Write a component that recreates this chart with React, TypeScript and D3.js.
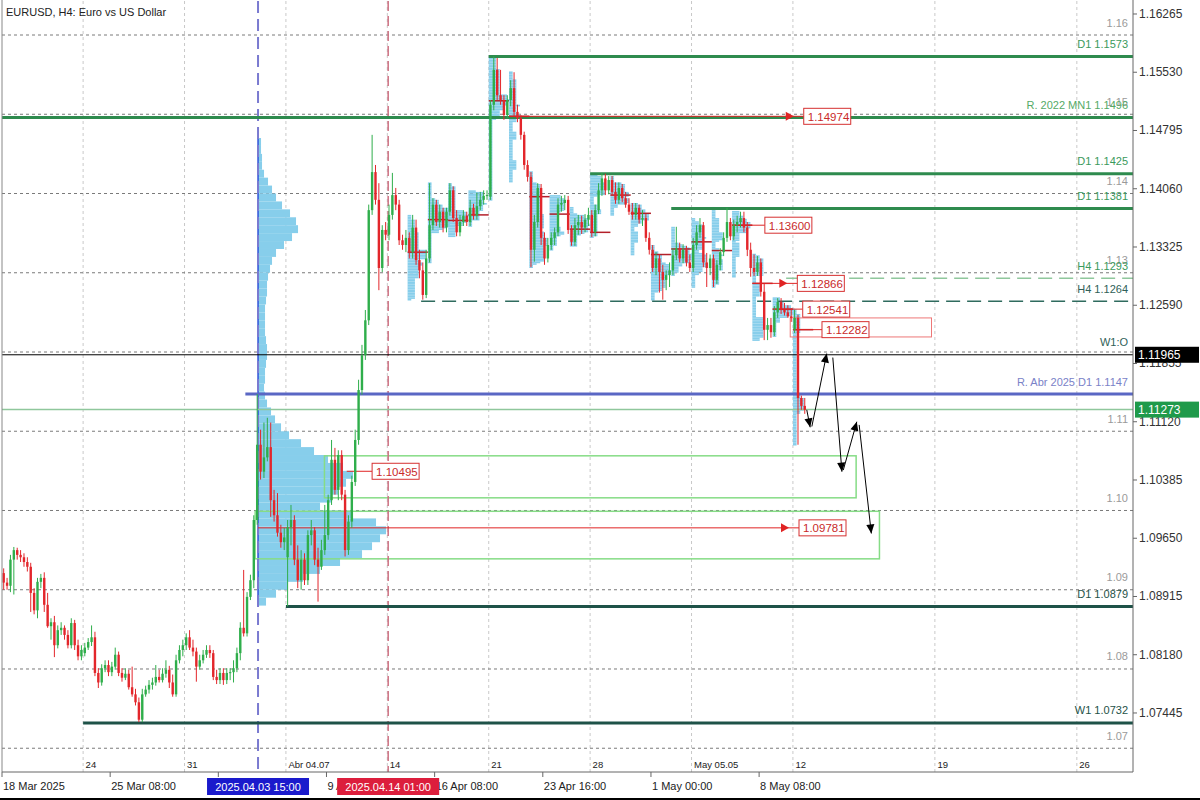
import React from "react";
import * as d3 from "d3";

// ---------- DATA ----------
// H4 OHLC bars [open, high, low, close], 18 Mar 2025 00:00 -> 12 May 2025 12:00
const candles: number[][] = [
  [1.0921,1.0927,1.0900,1.0909],[1.0909,1.0915,1.0900,1.0905],[1.0905,1.0944,1.0897,1.0938],[1.0938,1.0954,1.0894,1.0950],
  [1.0950,1.0953,1.0938,1.0944],[1.0944,1.0950,1.0935,1.0941],[1.0941,1.0946,1.0929,1.0935],[1.0935,1.0941,1.0923,1.0929],
  [1.0929,1.0934,1.0872,1.0896],[1.0896,1.0902,1.0869,1.0874],[1.0874,1.0915,1.0864,1.0910],[1.0910,1.0920,1.0902,1.0915],
  [1.0915,1.0922,1.0872,1.0881],[1.0881,1.0896,1.0852,1.0854],[1.0854,1.0864,1.0837,1.0859],[1.0859,1.0867,1.0815,1.0830],
  [1.0830,1.0855,1.0826,1.0849],[1.0849,1.0859,1.0843,1.0852],[1.0852,1.0855,1.0837,1.0843],[1.0843,1.0849,1.0826,1.0830],
  [1.0830,1.0864,1.0826,1.0858],[1.0858,1.0862,1.0824,1.0830],[1.0830,1.0837,1.0811,1.0816],[1.0816,1.0830,1.0811,1.0824],
  [1.0820,1.0833,1.0816,1.0827],[1.0827,1.0839,1.0824,1.0834],[1.0834,1.0855,1.0829,1.0840],[1.0840,1.0847,1.0791,1.0795],
  [1.0795,1.0801,1.0776,1.0783],[1.0783,1.0806,1.0779,1.0801],[1.0801,1.0811,1.0796,1.0805],[1.0805,1.0811,1.0791,1.0796],
  [1.0796,1.0809,1.0791,1.0803],[1.0803,1.0827,1.0799,1.0818],[1.0818,1.0822,1.0791,1.0795],[1.0795,1.0801,1.0784,1.0789],
  [1.0789,1.0801,1.0786,1.0794],[1.0794,1.0799,1.0774,1.0777],[1.0777,1.0803,1.0765,1.0768],[1.0768,1.0775,1.0754,1.0758],
  [1.0758,1.0764,1.0733,1.0736],[1.0736,1.0775,1.0733,1.0768],[1.0768,1.0779,1.0765,1.0774],[1.0774,1.0786,1.0769,1.0780],
  [1.0780,1.0789,1.0774,1.0783],[1.0783,1.0805,1.0779,1.0790],[1.0790,1.0799,1.0783,1.0786],[1.0786,1.0801,1.0783,1.0794],
  [1.0794,1.0811,1.0789,1.0799],[1.0799,1.0804,1.0776,1.0783],[1.0783,1.0793,1.0765,1.0768],[1.0768,1.0818,1.0765,1.0811],
  [1.0811,1.0830,1.0807,1.0824],[1.0824,1.0837,1.0816,1.0830],
  [1.0830,1.0845,1.0824,1.0840],[1.0840,1.0849,1.0824,1.0827],[1.0827,1.0837,1.0816,1.0822],[1.0822,1.0827,1.0784,1.0803],
  [1.0803,1.0818,1.0799,1.0811],[1.0811,1.0824,1.0807,1.0818],[1.0818,1.0830,1.0814,1.0824],[1.0824,1.0830,1.0814,1.0820],
  [1.0820,1.0824,1.0786,1.0790],[1.0790,1.0799,1.0781,1.0786],[1.0786,1.0801,1.0781,1.0795],[1.0795,1.0801,1.0780,1.0786],
  [1.0786,1.0801,1.0781,1.0795],[1.0795,1.0801,1.0786,1.0796],[1.0796,1.0811,1.0783,1.0801],[1.0801,1.0827,1.0796,1.0820],
  [1.0820,1.0859,1.0811,1.0852],[1.0852,1.0925,1.0841,1.0845],[1.0845,1.0897,1.0841,1.0891],[1.0891,1.0919,1.0887,1.0912],
  [1.0912,1.0994,1.0902,1.0988],[1.0988,1.1147,1.0982,1.1083],[1.1083,1.1102,1.1039,1.1049],[1.1049,1.1111,1.1041,1.1067],
  [1.1067,1.1117,1.1062,1.1080],[1.1080,1.1111,1.0992,1.1013],[1.1013,1.1026,1.0986,1.0994],[1.0994,1.1022,1.0967,1.0972],
  [1.0972,1.0982,1.0953,1.0960],[1.0960,1.0978,1.0950,1.0966],
  [1.0941,1.0988,1.0879,1.0979],[1.0979,1.1007,1.0956,1.0988],[1.0988,1.0994,1.0931,1.0938],[1.0938,1.0956,1.0902,1.0912],
  [1.0912,1.0950,1.0900,1.0938],[1.0938,1.0946,1.0906,1.0912],[1.0912,1.0975,1.0906,1.0969],[1.0969,1.0988,1.0956,1.0975],
  [1.0975,1.0979,1.0931,1.0938],[1.0938,1.0953,1.0885,1.0929],[1.0929,1.0963,1.0925,1.0950],[1.0950,1.1007,1.0944,1.0969],
  [1.0969,1.1020,1.0963,1.1013],[1.1013,1.1089,1.1007,1.1064],[1.1064,1.1079,1.1020,1.1026],[1.1026,1.1076,1.1013,1.1070],
  [1.1070,1.1076,1.1013,1.1020],[1.1020,1.1026,1.0942,1.0950],[1.0950,1.0994,1.0944,1.0986],[1.0986,1.1044,1.0978,1.1036],
  [1.1036,1.1102,1.1031,1.1089],[1.1089,1.1165,1.1083,1.1152],[1.1152,1.1209,1.1146,1.1196],[1.1196,1.1253,1.1190,1.1240],
  [1.1240,1.1386,1.1234,1.1379],[1.1379,1.1474,1.1373,1.1427],[1.1427,1.1436,1.1386,1.1392],[1.1392,1.1413,1.1278,1.1306],
  [1.1306,1.1360,1.1301,1.1354],[1.1354,1.1364,1.1341,1.1348],
  [1.1348,1.1386,1.1341,1.1373],[1.1373,1.1426,1.1367,1.1398],[1.1398,1.1407,1.1379,1.1386],[1.1386,1.1392,1.1335,1.1341],
  [1.1341,1.1348,1.1329,1.1335],[1.1335,1.1354,1.1326,1.1344],[1.1344,1.1351,1.1318,1.1326],[1.1326,1.1373,1.1318,1.1357],
  [1.1357,1.1367,1.1310,1.1316],[1.1316,1.1329,1.1293,1.1303],[1.1303,1.1313,1.1266,1.1272],[1.1272,1.1329,1.1268,1.1318],
  [1.1318,1.1413,1.1313,1.1360],[1.1360,1.1394,1.1354,1.1386],[1.1386,1.1392,1.1359,1.1364],[1.1364,1.1386,1.1357,1.1377],
  [1.1377,1.1382,1.1351,1.1357],[1.1357,1.1382,1.1351,1.1377],[1.1377,1.1413,1.1372,1.1404],[1.1404,1.1409,1.1364,1.1369],
  [1.1369,1.1379,1.1346,1.1351],[1.1351,1.1373,1.1346,1.1364],[1.1364,1.1379,1.1359,1.1372],[1.1372,1.1377,1.1359,1.1364],
  [1.1364,1.1392,1.1359,1.1382],[1.1382,1.1387,1.1367,1.1372],[1.1372,1.1401,1.1367,1.1384],[1.1384,1.1402,1.1379,1.1392],
  [1.1392,1.1404,1.1386,1.1397],[1.1397,1.1404,1.1392,1.1398],
  [1.1396,1.1518,1.1392,1.1512],[1.1512,1.1573,1.1505,1.1556],[1.1556,1.1571,1.1518,1.1524],[1.1524,1.1556,1.1512,1.1518],
  [1.1518,1.1524,1.1493,1.1499],[1.1499,1.1524,1.1495,1.1518],[1.1518,1.1543,1.1510,1.1533],[1.1533,1.1553,1.1497,1.1503],
  [1.1503,1.1512,1.1490,1.1495],[1.1495,1.1499,1.1468,1.1474],[1.1474,1.1478,1.1430,1.1436],[1.1436,1.1442,1.1415,1.1421],
  [1.1421,1.1427,1.1307,1.1329],[1.1329,1.1373,1.1314,1.1364],[1.1364,1.1413,1.1357,1.1407],[1.1407,1.1412,1.1335,1.1344],
  [1.1344,1.1351,1.1310,1.1318],[1.1318,1.1344,1.1313,1.1335],[1.1335,1.1351,1.1329,1.1344],[1.1344,1.1357,1.1335,1.1351],
  [1.1351,1.1394,1.1346,1.1386],[1.1386,1.1397,1.1377,1.1388],[1.1388,1.1398,1.1379,1.1392],[1.1392,1.1397,1.1349,1.1354],
  [1.1354,1.1360,1.1334,1.1339],[1.1339,1.1369,1.1334,1.1360],[1.1360,1.1373,1.1348,1.1364],[1.1364,1.1372,1.1349,1.1357],
  [1.1357,1.1374,1.1351,1.1367],[1.1367,1.1382,1.1359,1.1373],
  [1.1373,1.1379,1.1345,1.1351],[1.1351,1.1386,1.1346,1.1379],[1.1379,1.1413,1.1374,1.1404],[1.1404,1.1426,1.1397,1.1419],
  [1.1419,1.1425,1.1398,1.1404],[1.1404,1.1422,1.1399,1.1417],[1.1417,1.1422,1.1397,1.1402],[1.1402,1.1414,1.1387,1.1392],
  [1.1392,1.1414,1.1387,1.1407],[1.1407,1.1412,1.1389,1.1394],[1.1394,1.1402,1.1382,1.1386],[1.1386,1.1394,1.1373,1.1377],
  [1.1377,1.1388,1.1367,1.1373],[1.1373,1.1388,1.1367,1.1382],[1.1382,1.1386,1.1362,1.1367],[1.1367,1.1379,1.1359,1.1369],
  [1.1369,1.1374,1.1339,1.1344],[1.1344,1.1351,1.1323,1.1329],[1.1329,1.1335,1.1301,1.1306],[1.1306,1.1326,1.1297,1.1318],
  [1.1318,1.1323,1.1275,1.1301],[1.1301,1.1310,1.1266,1.1291],[1.1291,1.1303,1.1278,1.1297],[1.1297,1.1313,1.1282,1.1303],
  [1.1303,1.1331,1.1297,1.1322],[1.1322,1.1358,1.1316,1.1331],[1.1331,1.1338,1.1313,1.1318],[1.1318,1.1336,1.1312,1.1329],
  [1.1329,1.1334,1.1308,1.1313],[1.1313,1.1323,1.1301,1.1306],
  [1.1306,1.1344,1.1301,1.1335],[1.1335,1.1360,1.1329,1.1351],[1.1351,1.1369,1.1344,1.1360],[1.1360,1.1364,1.1307,1.1313],
  [1.1313,1.1325,1.1282,1.1306],[1.1306,1.1323,1.1297,1.1318],[1.1318,1.1323,1.1282,1.1291],[1.1291,1.1316,1.1286,1.1310],
  [1.1310,1.1331,1.1303,1.1326],[1.1326,1.1351,1.1321,1.1344],[1.1344,1.1382,1.1339,1.1364],[1.1364,1.1369,1.1341,1.1346],
  [1.1346,1.1367,1.1341,1.1360],[1.1360,1.1372,1.1351,1.1364],[1.1364,1.1377,1.1357,1.1369],[1.1369,1.1377,1.1351,1.1357],
  [1.1357,1.1364,1.1321,1.1329],[1.1329,1.1338,1.1295,1.1306],[1.1306,1.1323,1.1296,1.1301],[1.1301,1.1321,1.1296,1.1313],
  [1.1313,1.1318,1.1270,1.1276],[1.1276,1.1286,1.1215,1.1228],[1.1228,1.1243,1.1215,1.1234],[1.1234,1.1243,1.1218,1.1225],
  [1.1225,1.1258,1.1220,1.1250],[1.1250,1.1268,1.1243,1.1263],[1.1263,1.1268,1.1248,1.1253],[1.1253,1.1262,1.1246,1.1250],
  [1.1250,1.1259,1.1243,1.1245],[1.1245,1.1255,1.1238,1.1243],
  [1.1228,1.1253,1.1224,1.1243],[1.1243,1.1247,1.1083,1.1142],[1.1142,1.1145,1.1127,1.1132],[1.1132,1.1142,1.1122,1.1127],
];

const TITLE = "EURUSD, H4:  Euro vs US Dollar";
const priceTicks = [1.16265, 1.1553, 1.14795, 1.1406, 1.13325, 1.1259, 1.11855, 1.1112, 1.10385, 1.0965, 1.08915, 1.0818, 1.07445];
const gridLevels = [1.16, 1.15, 1.14, 1.13, 1.12, 1.11, 1.1, 1.09, 1.08, 1.07];
// the 1.12 label is hidden behind the W1:O caption in the reference
const gridLabels = ["1.16", "1.15", "1.14", "1.13", "", "1.11", "1.10", "1.09", "1.08", "1.07"];
const weekIdx = [24, 54, 84, 114, 144, 174, 204, 234, 276, 318];
const weekLabels = ["24", "31", "Abr 04.07", "14", "21", "28", "May 05.05", "12", "19", "26"];
// the 1 Apr 16:00 label is covered by the blue time marker in the reference
const timeIdx = [0, 32, 64, 96, 128, 160, 192, 224];
const timeLabels = ["18 Mar 2025", "25 Mar 08:00", "", "9 Apr 00:00", "16 Apr 08:00", "23 Apr 16:00", "1 May 00:00", "8 May 08:00"];

const levelNames = ["D1 1.1573", "R. 2022 MN1 1.1496", "D1 1.1425", "D1 1.1381", "H4 1.1293", "H4 1.1264", "W1:O", "R. Abr 2025 D1 1.1147", "D1 1.0879", "W1 1.0732"];
const levelPrices = [1.1573, 1.1496, 1.1425, 1.1381, 1.1293, 1.1264, 1.11965, 1.1147, 1.0879, 1.0732];
const levelStart = [144, -1, 174, 198, 232, 124, -1, 72, 84, 24];
const levelKind = ["d1", "mn", "d1", "d1", "h4l", "h4d", "wo", "abr", "dt", "dt"];

const currentPrice = 1.11273;
const weekOpen = 1.11965;

const compositeAnchor = 75.75; // 2025.04.03 15:00
const compositeEnd = 114.25;   // 2025.04.14 01:00
const compositePrices = [1.1465,1.1455,1.1445,1.1435,1.1425,1.1415,1.1405,1.1395,1.1385,1.1375,1.1365,1.1355,1.1345,1.1335,1.1325,1.1315,1.1305,1.1295,1.1285,1.1275,1.1265,1.1255,1.1245,1.1235,1.1225,1.1215,1.1205,1.1195,1.1185,1.1175,1.1165,1.1155,1.1145,1.1135,1.1125,1.1115,1.1105,1.1095,1.1085,1.1075,1.1065,1.1055,1.1045,1.1035,1.1025,1.1015,1.1005,1.0995,1.0985,1.0975,1.0965,1.0955,1.0945,1.0935,1.0925,1.0915,1.0905,1.0895,1.0885];
const compositeVolume = [3,3,4,4,6,10,14,18,24,32,38,40,34,26,18,14,12,10,9,9,8,7,7,7,7,8,9,9,8,7,7,6,7,9,13,17,23,31,43,56,70,85,95,88,80,74,62,95,118,128,122,114,104,82,62,45,30,18,8];

const dailyStart = [120, 126, 132, 138, 144, 150, 156, 162, 168, 174, 180, 186, 192, 198, 204, 210, 216, 222, 228, 234];
const dailyPoc = [1.1326, 1.1367, 1.1366, 1.1373, 1.1517, 1.14974, 1.1396, 1.1374, 1.1355, 1.1351, 1.1398, 1.1375, 1.1323, 1.133, 1.1339, 1.1328, 1.136, 1.12866, 1.12541, 1.12282];

const nakedPrice = [1.14974, 1.136, 1.12866, 1.12541, 1.10495, 1.09781, 1.12282];
const nakedFrom = [150, 216, 222, 228, 102, 75.75, 234];
const nakedLabelAt = [237.2, 225.7, 235.3, 236.9, 109.5, 235.8, 242.6];
const nakedArrow = [true, false, true, false, false, true, false];
const nakedText = ["1.14974", "1.13600", "1.12866", "1.12541", "1.10495", "1.09781", "1.12282"];

// 12 May POC zone rectangle [fromIdx, toIdx, top, bottom]
const pocZone = [233.2, 275, 1.1243, 1.1219];
// demand zones [fromIdx, toIdx, top, bottom]
const zones = [
  [95.4, 252.7, 1.1069, 1.1016],
  [74.9, 259.6, 1.0999, 1.0939],
];
// projected path arrows [fromIdx, fromPrice, toIdx, toPrice]
const projection = [
  [237.6, 1.1127, 238.6, 1.1105],
  [239.1, 1.1106, 243.5, 1.1198],
  [245.3, 1.1193, 248.0, 1.1049],
  [248.4, 1.1051, 252.4, 1.1112],
  [253.1, 1.1108, 256.7, 1.0971],
];

// ---------- STYLE ----------
const FONT = "'Liberation Sans', Arial, sans-serif";
const levelStyle: Record<string, any> = {
  d1: { stroke: "#2e8b4e", w: 3, dash: undefined, text: "#3a9a5c" },
  mn: { stroke: "#2e8b4e", w: 3, dash: undefined, text: "#55aa66" },
  h4l: { stroke: "#8fc79c", w: 1.5, dash: "14,7", text: "#3a9a5c" },
  h4d: { stroke: "#2f6b5e", w: 1.5, dash: "14,7", text: "#2f5f58" },
  wo: { stroke: "#000000", w: 1, dash: undefined, text: "#2f5f58" },
  abr: { stroke: "#5a67c4", w: 3, dash: undefined, text: "#7a82c8" },
  dt: { stroke: "#1e5248", w: 3, dash: undefined, text: "#1e5248" },
};

export default function App() {
  const L = 2, R = 1133, T = 1, B = 772;
  const x = d3.scaleLinear().domain([0, 334]).range([2, 2 + 3.38 * 334]);
  const y = d3.scaleLinear().domain([1.067003, 1.164038]).range([B, 3]);
  const bx = (i: number) => x(i + 0.5);
  const volX = d3.scaleLinear().domain([0, 128]).range([0, 128]);
  const tpoX = d3.scaleLinear().domain([0, 6]).range([0, 22]);

  const step = 0.0002;
  const profiles = dailyStart.map((s) => {
    const seg = candles.slice(s, s + 6);
    const lo = d3.min(seg, (d) => d[2]) as number;
    const hi = d3.max(seg, (d) => d[1]) as number;
    const bins = d3.range(lo, hi + step / 2, step).map((p) => ({
      p,
      n: seg.filter((d) => d[2] <= p + 1e-9 && d[1] >= p - 1e-9).length,
    }));
    return { s, bins };
  });

  const arrowRed = (xt: number, yt: number) => `M${xt},${yt} L${xt - 8},${yt - 4.5} L${xt - 8},${yt + 4.5} Z`;

  return (
    <svg width={1200} height={800} style={{ position: "fixed", left: 0, top: 0, background: "#fff" }} fontFamily={FONT}>
      <defs>
        <clipPath id="plot"><rect x={L} y={T} width={R - L} height={B - T} /></clipPath>
        <marker id="ah" viewBox="0 0 10 10" refX="10" refY="5" markerWidth="11" markerHeight="9" markerUnits="userSpaceOnUse" orient="auto">
          <path d="M0,0.5 L10,5 L0,9.5 Z" fill="#000" />
        </marker>
      </defs>
      <rect x={0} y={0} width={1200} height={800} fill="#fff" />

      <g clipPath="url(#plot)">
        {weekIdx.map((w, i) => (
          <line key={"vg" + i} x1={x(w)} x2={x(w)} y1={T} y2={B} stroke="#c9c9c9" strokeDasharray="3,3" />
        ))}
        {gridLevels.map((g, i) => (
          <line key={"hg" + i} x1={L} x2={R} y1={y(g)} y2={y(g)} stroke="#7a7a7a" strokeDasharray="3,3" />
        ))}

        {compositePrices.map((p, i) => (
          <rect key={"cp" + i} x={x(compositeAnchor)} y={y(p + 0.0005)} width={volX(compositeVolume[i])}
            height={y(p - 0.0005) - y(p + 0.0005)} fill="#87ceeb" />
        ))}
        <line x1={x(compositeAnchor)} x2={x(compositeAnchor)} y1={y(1.147)} y2={y(1.088)} stroke="#3050d8" strokeWidth={1.5} />

        {profiles.map((pr) =>
          pr.bins.map((b, j) => (
            <rect key={"dp" + pr.s + "_" + j} x={x(pr.s)} y={y(b.p + step / 2)} width={tpoX(b.n)}
              height={y(b.p - step / 2) - y(b.p + step / 2)} fill="#87ceeb" />
          ))
        )}

        {zones.map((z, i) => (
          <rect key={"z" + i} x={x(z[0])} y={y(z[2])} width={x(z[1]) - x(z[0])} height={y(z[3]) - y(z[2])}
            fill="none" stroke="#86dc86" strokeWidth={1.5} />
        ))}

        <line x1={x(compositeAnchor)} x2={x(compositeAnchor)} y1={T} y2={B} stroke="#7a7ad0" strokeWidth={2} strokeDasharray="12,6" />
        <line x1={x(compositeEnd)} x2={x(compositeEnd)} y1={T} y2={B} stroke="#cc6f80" strokeWidth={1.5} strokeDasharray="10,5" />

        {levelPrices.map((p, i) => {
          const st = levelStyle[levelKind[i]];
          const x0 = levelStart[i] < 0 ? L : x(levelStart[i]);
          return <line key={"lv" + i} x1={x0} x2={R} y1={y(p)} y2={y(p)} stroke={st.stroke} strokeWidth={st.w} strokeDasharray={st.dash} />;
        })}
        <line x1={L} x2={R} y1={y(currentPrice)} y2={y(currentPrice)} stroke="#8fc79c" strokeWidth={1.5} />

        {dailyStart.map((s, i) => (
          <line key={"poc" + i} x1={x(s)} x2={x(s + 6)} y1={y(dailyPoc[i])} y2={y(dailyPoc[i])} stroke="#b3202a" strokeWidth={1.5} />
        ))}

        <rect x={x(pocZone[0])} y={y(pocZone[2])} width={x(pocZone[1]) - x(pocZone[0])} height={y(pocZone[3]) - y(pocZone[2])}
          fill="none" stroke="#ee7777" strokeWidth={1} />

        {nakedPrice.map((p, i) => {
          const lx = x(nakedLabelAt[i]);
          const yy = y(p);
          return (
            <g key={"np" + i}>
              <line x1={x(nakedFrom[i])} x2={lx} y1={yy} y2={yy} stroke="#e02424" strokeWidth={1} />
              {nakedArrow[i] && <path d={arrowRed(lx - 10, yy)} fill="#e02424" />}
            </g>
          );
        })}

        {candles.map((c, i) => {
          const up = c[3] >= c[0];
          const col = up ? "#2fae4b" : "#e3262b";
          const top = y(Math.max(c[0], c[3]));
          const bot = y(Math.min(c[0], c[3]));
          const cx = bx(i);
          return (
            <g key={"c" + i}>
              <line x1={cx} x2={cx} y1={y(c[1])} y2={y(c[2])} stroke={col} strokeWidth={1} />
              <rect x={cx - 1.2} y={top} width={2.4} height={Math.max(1, bot - top)} fill={col} />
            </g>
          );
        })}

        {nakedPrice.map((p, i) => {
          const lx = x(nakedLabelAt[i]);
          const yy = y(p);
          return (
            <g key={"nl" + i}>
              <rect x={lx} y={yy - 8} width={47} height={16} fill="#fff" stroke="#d63030" strokeWidth={1} />
              <text x={lx + 4} y={yy + 4.5} fontSize={11.5} fill="#c92a2a">{nakedText[i]}</text>
            </g>
          );
        })}

        {projection.map((a, i) => (
          <line key={"pa" + i} x1={bx(a[0])} y1={y(a[1])} x2={bx(a[2])} y2={y(a[3])} stroke="#000" strokeWidth={1} markerEnd="url(#ah)" />
        ))}

        {gridLevels.map((g, i) => gridLabels[i] ? (
          <text key={"gl" + i} x={R - 5} y={y(g) - 8.5} fontSize={11} fill="#9a9a9a" textAnchor="end">{gridLabels[i]}</text>
        ) : null)}
        {levelPrices.map((p, i) => (
          <text key={"ll" + i} x={R - 5} y={y(p) - 8.5} fontSize={11} fill={levelStyle[levelKind[i]].text} textAnchor="end">{levelNames[i]}</text>
        ))}

        {weekIdx.map((w, i) => (
          <text key={"wl" + i} x={x(w) + 2.5} y={768} fontSize={9.5} fill="#222">{weekLabels[i]}</text>
        ))}

        <text x={6} y={16} fontSize={11} fill="#222">{TITLE}</text>
      </g>

      <line x1={L} x2={L} y1={0} y2={B} stroke="#888" />
      <line x1={L} x2={R} y1={B} y2={B} stroke="#666" />
      <line x1={R} x2={R} y1={0} y2={B} stroke="#666" />

      {priceTicks.map((p, i) => (
        <g key={"pt" + i}>
          <line x1={R} x2={R + 4} y1={y(p)} y2={y(p)} stroke="#666" />
          <text x={R + 6} y={y(p) + 4} fontSize={12} fill="#333">{p.toFixed(5)}</text>
        </g>
      ))}
      <rect x={R + 2} y={y(weekOpen) - 8} width={64} height={16} fill="#000" />
      <text x={R + 5} y={y(weekOpen) + 4.5} fontSize={12} fill="#fff">{weekOpen.toFixed(5)}</text>
      <rect x={R + 2} y={y(currentPrice) - 8} width={64} height={16} fill="#1f9a4a" />
      <text x={R + 5} y={y(currentPrice) + 4.5} fontSize={12} fill="#fff">{currentPrice.toFixed(5)}</text>

      {timeIdx.map((t, i) => (
        <g key={"tt" + i}>
          <line x1={x(t)} x2={x(t)} y1={B} y2={B + 5} stroke="#666" />
          {timeLabels[i] && <text x={x(t) + 1} y={790} fontSize={11} fill="#222">{timeLabels[i]}</text>}
        </g>
      ))}
      <rect x={x(compositeAnchor) - 51} y={778} width={102} height={17} fill="#1a1acc" />
      <text x={x(compositeAnchor)} y={791} fontSize={11} fill="#fff" textAnchor="middle">2025.04.03 15:00</text>
      <rect x={x(compositeEnd) - 51} y={778} width={102} height={17} fill="#dc1e3c" />
      <text x={x(compositeEnd)} y={791} fontSize={11} fill="#fff" textAnchor="middle">2025.04.14 01:00</text>

      <line x1={0} x2={1200} y1={799} y2={799} stroke="#000" strokeWidth={2} />
    </svg>
  );
}
